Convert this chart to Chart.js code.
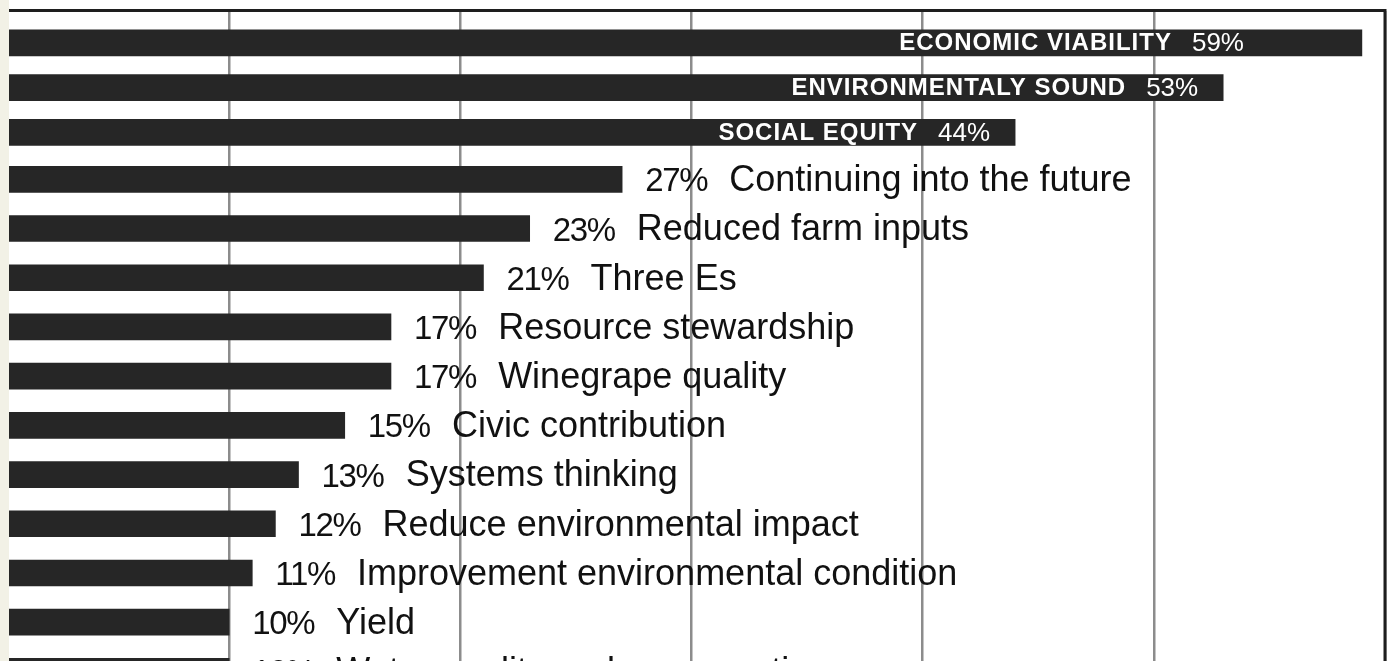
<!DOCTYPE html>
<html>
<head>
<meta charset="utf-8">
<script src="https://cdn.jsdelivr.net/npm/chart.js@4.4.0/dist/chart.umd.min.js"></script>
<style>
  html, body { margin: 0; padding: 0; background: #fff; overflow: hidden; }
  body { width: 1389px; height: 661px; position: relative; }
  #strip { position: absolute; left: 0; top: 0; width: 9px; height: 661px; background: #f2f1e6; z-index: 2; }
  #chart { position: absolute; left: -2px; top: 0; }
</style>
</head>
<body>
<div id="strip"></div>
<canvas id="chart" width="1389" height="700"></canvas>
<script>
// the three headline answers (labelled inside the bar)
const topLabels = ['ECONOMIC VIABILITY', 'ENVIRONMENTALY SOUND', 'SOCIAL EQUITY'];
const topValues = [59, 53, 44];

// the rest (labelled to the right of the bar)
const otherLabels = [
    'Continuing into the future',
    'Reduced farm inputs',
    'Three Es',
    'Resource stewardship',
    'Winegrape quality',
    'Civic contribution',
    'Systems thinking',
    'Reduce environmental impact',
    'Improvement environmental condition',
    'Yield',
    'Water quality and conservation'
];
const otherValues = [27, 23, 21, 17, 17, 15, 13, 12, 11, 10, 10];

const axisMin = 0;
const axisMax = 60;
const axisStep = 10;

const barColor = '#262626';

// white labels inside the top bars, black labels after the others
const barLabels = {
    id: 'barLabels',
    afterDatasetsDraw(chart) {
        const ctx = chart.ctx;
        const xs = chart.scales.x;
        ctx.save();
        ctx.textBaseline = 'middle';

        // inside labels: right aligned, name in bold caps then the percent
        const maxEnd = xs.getPixelForValue(53.9);
        chart.getDatasetMeta(0).data.forEach((bar, i) => {
            const end = Math.min(bar.x - 25, maxEnd);
            ctx.fillStyle = '#ffffff';
            ctx.textAlign = 'right';
            ctx.letterSpacing = '0px';
            ctx.font = '26px "Liberation Sans", Arial, sans-serif';
            const pct = topValues[i] + '%';
            ctx.fillText(pct, end, bar.y + 1);
            const w = ctx.measureText(pct).width;
            ctx.letterSpacing = '1px';
            ctx.font = 'bold 24px "Liberation Sans", Arial, sans-serif';
            ctx.fillText(topLabels[i], end - w - 20, bar.y + 1);
        });

        // outside labels
        chart.getDatasetMeta(1).data.forEach((bar, i) => {
            const start = bar.x + 23;
            ctx.fillStyle = '#111111';
            ctx.textAlign = 'left';
            ctx.letterSpacing = '-1.3px';
            ctx.font = '33px "Liberation Sans", Arial, sans-serif';
            const pct = otherValues[i] + '%';
            ctx.fillText(pct, start, bar.y + 3);
            const w = ctx.measureText(pct).width;
            ctx.letterSpacing = '0px';
            ctx.font = '36px "Liberation Sans", Arial, sans-serif';
            ctx.fillText(otherLabels[i], start + w + 22, bar.y + 2);
        });
        ctx.restore();
    }
};

// dark frame along the top and the right edge of the plot
const frame = {
    id: 'frame',
    afterDatasetsDraw(chart) {
        const {ctx, chartArea} = chart;
        ctx.save();
        ctx.strokeStyle = '#1e1e1e';
        ctx.lineWidth = 3;
        ctx.beginPath();
        ctx.moveTo(chartArea.left, chartArea.top - 0.5);
        ctx.lineTo(chartArea.right + 1.5, chartArea.top - 0.5);
        ctx.moveTo(chartArea.right, chartArea.top - 0.5);
        ctx.lineTo(chartArea.right, chartArea.bottom);
        ctx.stroke();
        ctx.restore();
    }
};

const ctx = document.getElementById('chart').getContext('2d');
const chart = new Chart(ctx, {
    type: 'bar',
    data: {
        datasets: [
            {
                data: topValues,
                yAxisID: 'yTop',
                backgroundColor: barColor,
                barThickness: 26,
                grouped: false
            },
            {
                data: otherValues,
                yAxisID: 'yRest',
                backgroundColor: barColor,
                barThickness: 26,
                grouped: false
            }
        ]
    },
    options: {
        indexAxis: 'y',
        responsive: false,
        animation: false,
        events: [],
        layout: {
            padding: { top: 11, right: 2, bottom: 4, left: 0 }
        },
        plugins: {
            legend: { display: false },
            tooltip: { enabled: false }
        },
        scales: {
            x: {
                type: 'linear',
                position: 'bottom',
                min: axisMin,
                max: axisMax,
                ticks: { display: false, stepSize: axisStep },
                grid: { color: '#8c8c8c', lineWidth: 2.5, drawTicks: false },
                border: { display: false }
            },
            // small empty band above the first bar
            yPad: {
                axis: 'y',
                type: 'category',
                labels: [''],
                position: 'left',
                stack: 'rows',
                stackWeight: 9.5,
                weight: 3,
                display: false
            },
            yTop: {
                axis: 'y',
                type: 'category',
                labels: topLabels,
                position: 'left',
                stack: 'rows',
                stackWeight: 134.2,
                weight: 2,
                offset: true,
                display: false
            },
            yRest: {
                axis: 'y',
                type: 'category',
                labels: otherLabels,
                position: 'left',
                stack: 'rows',
                stackWeight: 541.3,
                weight: 1,
                offset: true,
                display: false
            }
        }
    },
    plugins: [barLabels, frame]
});
</script>
</body>
</html>
